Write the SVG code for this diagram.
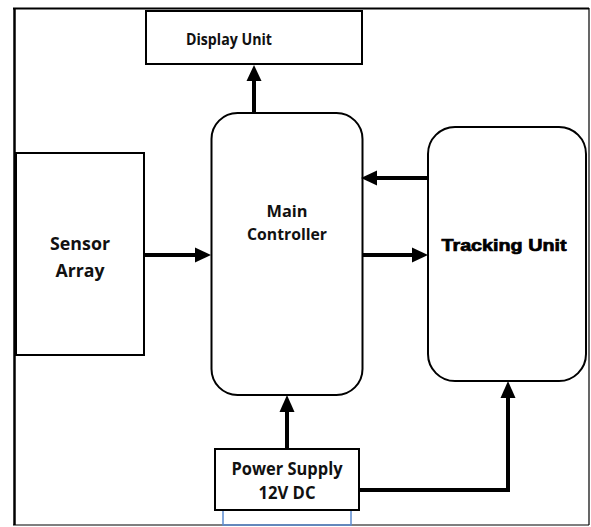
<svg xmlns="http://www.w3.org/2000/svg" width="591" height="527" viewBox="0 0 591 527">
<defs>
<style>
.box{fill:#fff;stroke:#000;stroke-width:2}
.lbl{font-family:"Open Sans","Noto Sans","Liberation Sans",sans-serif;font-weight:700;fill:#111;text-anchor:middle}
.heavy{font-family:"Liberation Sans",Arial,sans-serif;font-weight:900;fill:#000;stroke:#000;stroke-width:0.7;text-anchor:middle}
.wire{fill:none;stroke:#000;stroke-width:4}
.head{fill:#000}
</style>
</defs>
<rect width="591" height="527" fill="#fff"/>
<g id="frame">
<line x1="13" y1="8.5" x2="589" y2="8.5" stroke="#000" stroke-width="2.2"/>
<line x1="14.5" y1="8" x2="14.5" y2="525" stroke="#000" stroke-width="2.5"/>
<line x1="589" y1="8" x2="589" y2="525" stroke="#000" stroke-width="1.2"/>
<line x1="13" y1="525" x2="589" y2="525" stroke="#000" stroke-width="1.2"/>
</g>
<g id="display-unit">
<rect class="box" x="146" y="11" width="216" height="53"/>
<text class="lbl" x="229" y="45" font-size="16" textLength="86" lengthAdjust="spacingAndGlyphs">Display Unit</text>
</g>
<g id="sensor-array">
<rect class="box" x="16" y="153" width="128" height="202"/>
<text class="lbl" x="80" y="250" font-size="17.5" textLength="60" lengthAdjust="spacingAndGlyphs">Sensor</text>
<text class="lbl" x="80" y="277" font-size="17.5" textLength="49" lengthAdjust="spacingAndGlyphs">Array</text>
</g>
<g id="main-controller">
<rect class="box" x="211.5" y="113" width="151" height="282" rx="26" ry="26"/>
<text class="lbl" x="287" y="217" font-size="16.5" textLength="41" lengthAdjust="spacingAndGlyphs">Main</text>
<text class="lbl" x="287" y="240" font-size="16.5" textLength="80" lengthAdjust="spacingAndGlyphs">Controller</text>
</g>
<g id="tracking-unit">
<rect class="box" x="428" y="127" width="158" height="254" rx="27" ry="27"/>
<text class="heavy" x="504" y="251" font-size="17" textLength="125" lengthAdjust="spacingAndGlyphs">Tracking Unit</text>
</g>
<g id="power-supply">
<rect fill="none" stroke="#5b8bd0" stroke-width="1.5" x="223" y="505" width="128" height="20"/>
<rect class="box" x="215" y="449" width="144" height="61" stroke-width="2.5"/>
<text class="lbl" x="287" y="475" font-size="17" textLength="111" lengthAdjust="spacingAndGlyphs">Power Supply</text>
<text class="lbl" x="287" y="499" font-size="17" textLength="57" lengthAdjust="spacingAndGlyphs">12V DC</text>
</g>
<g id="connectors">
<line class="wire" x1="254" y1="113" x2="254" y2="79"/>
<polygon class="head" points="254,65 246.5,81 261.5,81"/>
<line class="wire" x1="144" y1="255" x2="196" y2="255"/>
<polygon class="head" points="211,255 195,247.5 195,262.5"/>
<line class="wire" x1="428" y1="178" x2="375" y2="178"/>
<polygon class="head" points="361,178 377,170.5 377,185.5"/>
<line class="wire" x1="363" y1="255" x2="413" y2="255"/>
<polygon class="head" points="428,255 412,247.5 412,262.5"/>
<line class="wire" x1="287" y1="449" x2="287" y2="410"/>
<polygon class="head" points="287,395 279.5,412 294.5,412"/>
<polyline class="wire" points="359,490 508,490 508,396"/>
<polygon class="head" points="508,381 500.5,398 515.5,398"/>
</g>
</svg>
